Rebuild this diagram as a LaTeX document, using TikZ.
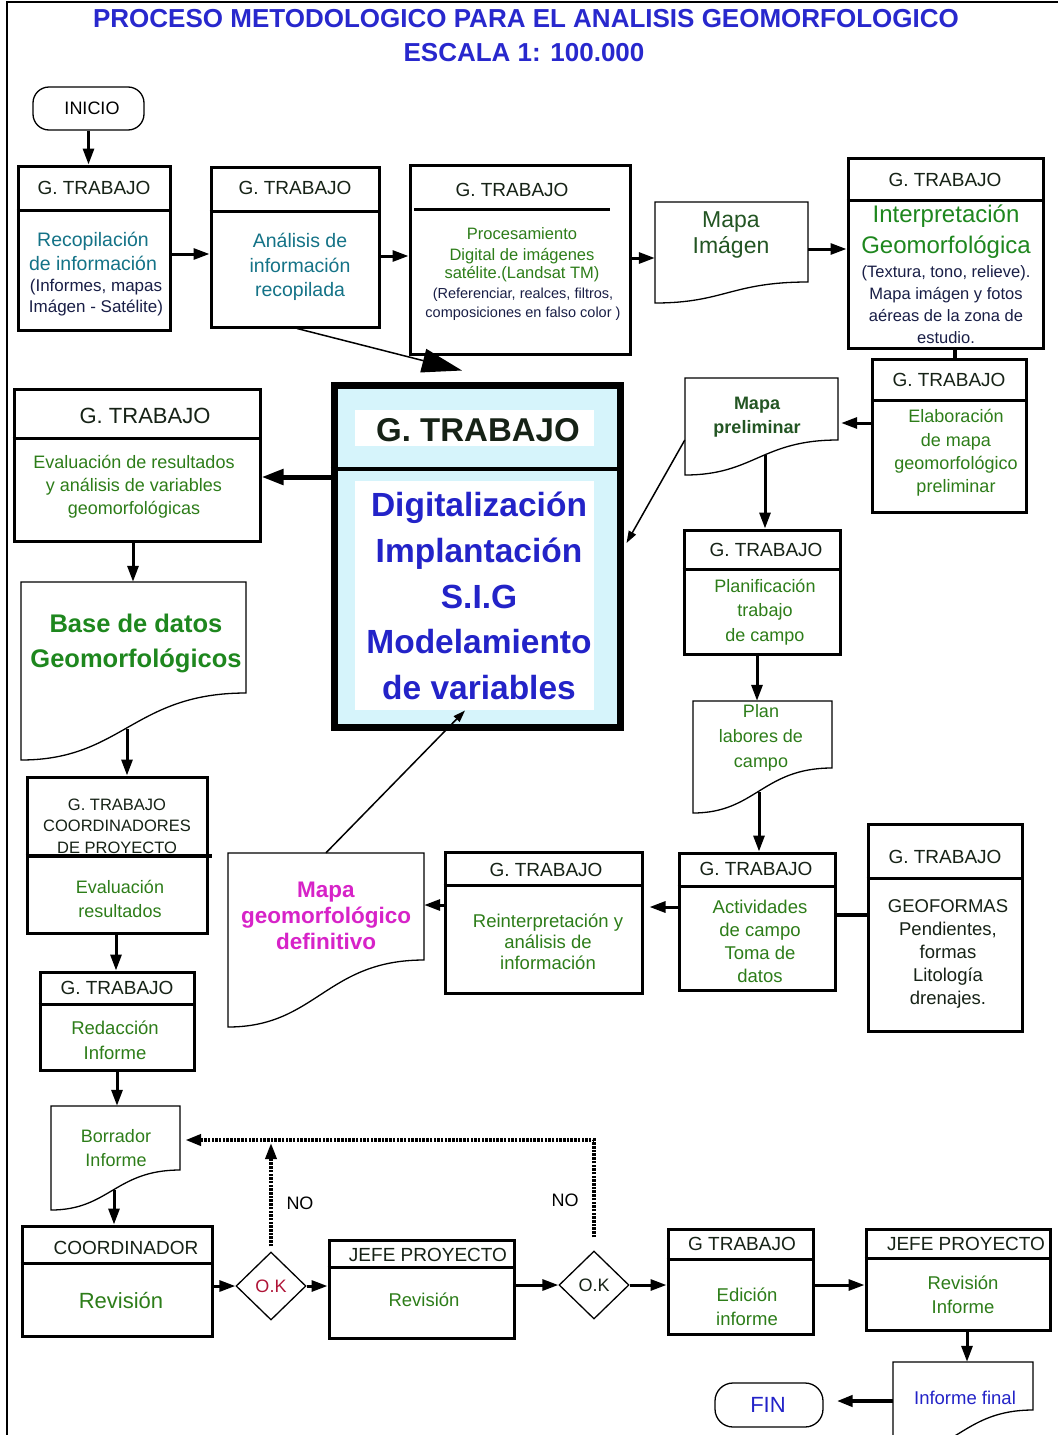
\documentclass[tikz,border=0pt]{standalone}
\usepackage{fontspec}
\setmainfont{Liberation Sans}
\usetikzlibrary{arrows.meta,fit,calc,shapes.geometric}
\definecolor{titleblue}{RGB}{40,40,205}
\definecolor{chdr}{RGB}{22,34,22}
\definecolor{cgreen}{RGB}{45,125,25}
\definecolor{cgreen2}{RGB}{30,135,30}
\definecolor{cdkgreen}{RGB}{35,85,35}
\definecolor{cteal}{RGB}{20,115,135}
\definecolor{cnavy}{RGB}{25,30,70}
\definecolor{cblue}{RGB}{35,35,200}
\definecolor{cmag}{RGB}{215,35,200}
\definecolor{cred}{RGB}{175,20,55}
\definecolor{ccyan}{RGB}{214,244,251}
\newcommand{\fs}[2]{\fontsize{#1}{#2}\selectfont}
\newcommand{\gbox}[6]{%
  \node[boxst, fit={(#2,#3) (#4,#5)}] (#1) {};
  \draw[divst] (#1.west |- 0,#6) -- (#1.east |- 0,#6);}
\newcommand{\docnode}[6]{%
  \node[inner sep=0pt, fit={(#2,#3) (#4,#6)}] (#1) {};
  \draw[docst] (#2,#3) -- (#4,#3) -- (#4,#5) .. controls ({(#2+#4)/2},#5) and ({(#2+#4)/2-0.05*(#4-#2)},#6) .. (#2,#6) -- cycle;}
\begin{document}
\begin{tikzpicture}[x=1pt,y=-1pt,
  boxst/.style={draw=black, line width=3pt, fill=white, inner sep=0pt},
  divst/.style={line width=3pt},
  docst/.style={draw=black, line width=1.3pt, fill=white},
  hdr/.style={inner sep=0pt, align=center, text=chdr, font=\fs{19}{23}},
  txt/.style={inner sep=0pt, align=center},
  arr/.style={line width=3pt, -{Triangle[length=16pt,width=11pt]}},
  thinarr/.style={line width=1.5pt, -{Triangle[length=12pt,width=8pt]}},
  dotarr/.style={line width=3.5pt, dash pattern=on 2.5pt off 1.2pt, -{Triangle[length=16pt,width=11pt]}},
  dmd/.style={diamond, draw, line width=1.3pt, fill=white, minimum width=70pt, minimum height=68pt, inner sep=0pt, font=\fs{18}{22}},
  term/.style={draw, line width=1.3pt, inner sep=0pt}
]
\useasboundingbox (0,0) rectangle (1058,1435);
\draw[line width=1.5pt] (7,1435) -- (7,2) -- (1058,2);

% title
\node[txt, text=titleblue, font=\fs{26}{30}\bfseries] (title1) at (526,19) {PROCESO METODOLOGICO PARA EL ANALISIS GEOMORFOLOGICO};
\node[txt, text=titleblue, font=\fs{26}{30}\bfseries] (title2) at (524,53) {ESCALA 1: 100.000};

% inicio
\node[term, rounded corners=16pt, fit={(33,87) (144,130)}] (inicio) {};
\node[txt, font=\fs{18}{22}] (tinicio) at (92,108) {INICIO};

% row 1
\gbox{b1}{18}{166}{170}{330}{210}
\node[hdr] (h1) at (94,188) {G. TRABAJO};
\node[txt, text=cteal, font=\fs{19.5}{24}] (t1a) at (93,251) {Recopilación\\de información};
\node[txt, text=cnavy, font=\fs{17}{21}] (t1b) at (96,298) {(Informes, mapas\\Imágen - Satélite)};

\gbox{b2}{211}{167}{379}{327}{211}
\node[hdr] (h2) at (295,188) {G. TRABAJO};
\node[txt, text=cteal, font=\fs{19.5}{24.5}] (t2) at (300,267) {Análisis de\\información\\recopilada};

\node[boxst, fit={(410,165) (630,354)}] (b3) {};
\draw[divst] (414,209) -- (610,209);
\node[hdr] (h3) at (512,190) {G. TRABAJO};
\node[txt, text=cgreen, font=\fs{16.5}{20}] (t3a) at (522,234) {Procesamiento};
\node[txt, text=cgreen, font=\fs{16.5}{17.5}] (t3b) at (522,265) {Digital de imágenes\\satélite.(Landsat TM)};
\node[txt, text=cnavy, font=\fs{14.5}{19.5}] (t3c) at (523,304) {(Referenciar, realces, filtros,\\composiciones en falso color )};

\docnode{mimg}{655}{202}{808}{282}{303}
\node[txt, text=cdkgreen, font=\fs{23}{26}] (tmimg) at (731,235) {Mapa\\Imágen};

\gbox{b4}{848}{158}{1043}{348}{200}
\node[hdr] (h4) at (945,180) {G. TRABAJO};
\node[txt, text=cgreen2, font=\fs{24}{31}] (t4a) at (946,232) {Interpretación\\Geomorfológica};
\node[txt, text=cnavy, font=\fs{16.5}{22}] (t4b) at (946,305) {(Textura, tono, relieve).\\Mapa imágen y fotos\\aéreas de la zona de\\estudio.};

\gbox{b5}{872}{359}{1026}{512}{400}
\node[hdr] (h5) at (949,380) {G. TRABAJO};
\node[txt, text=cgreen, font=\fs{18}{23.3}] (t5) at (956,453) {Elaboración\\de mapa\\geomorfológico\\preliminar};

\docnode{mprel}{685}{378}{838}{440}{475}
\node[txt, text=cdkgreen, font=\fs{18}{24}\bfseries] (tmprel) at (757,417) {Mapa\\preliminar};

% central box
\node[draw, line width=7pt, fill=ccyan, inner sep=0pt, fit={(334,385) (620,727)}] (c) {};
\fill[white] (355,410) rectangle (594,446);
\fill[white] (355,481) rectangle (594,710);
\draw[line width=4pt] (c.west |- 0,469) -- (c.east |- 0,469);
\node[txt, text=chdr, font=\fs{33}{38}\bfseries] (hc) at (478,430) {G. TRABAJO};
\node[txt, text=cblue, font=\fs{33.5}{45.75}\bfseries] (tc) at (479,596) {Digitalización\\Implantación\\S.I.G\\Modelamiento\\de variables};

% left column
\gbox{b6}{14}{389}{260}{541}{438}
\node[hdr, font=\fs{22}{26}] (h6) at (145,416) {G. TRABAJO};
\node[txt, text=cgreen, font=\fs{18}{23}] (t6) at (134,487) {Evaluación de resultados\\y análisis de variables\\geomorfológicas};

\docnode{base}{21}{582}{246}{693}{760}
\node[txt, text=cgreen2, font=\fs{25.5}{35}\bfseries] (tbase) at (136,643) {Base de datos\\Geomorfológicos};

\node[boxst, fit={(27,777) (207,933)}] (b7) {};
\draw[line width=4pt] (b7.west |- 0,856) -- ($(b7.east |- 0,856)+(3,0)$);
\node[hdr, font=\fs{16.5}{21.5}] (h7) at (117,826) {G. TRABAJO\\COORDINADORES\\DE PROYECTO};
\node[txt, text=cgreen, font=\fs{18}{24.5}] (t7) at (120,899) {Evaluación\\resultados};

\gbox{b8}{40}{972}{194}{1070}{1004}
\node[hdr] (h8) at (117,988) {G. TRABAJO};
\node[txt, text=cgreen, font=\fs{18.5}{25}] (t8) at (115,1040) {Redacción\\Informe};

\docnode{borr}{51}{1106}{180}{1170}{1210}
\node[txt, text=cgreen, font=\fs{18}{23.5}] (tborr) at (116,1148) {Borrador\\Informe};

% bottom row
\gbox{b13}{22}{1226}{212}{1336}{1263}
\node[hdr] (h13) at (126,1248) {COORDINADOR};
\node[txt, text=cgreen, font=\fs{22}{26}] (t13) at (121,1300) {Revisión};

\node[dmd, text=cred] (d1) at (271,1286) {O.K};
\node[txt, font=\fs{18}{22}] (no1) at (300,1203) {NO};
\node[txt, font=\fs{18}{22}] (no2) at (565,1200) {NO};

\gbox{b14}{329}{1240}{514}{1338}{1267}
\node[hdr] (h14) at (428,1255) {JEFE PROYECTO};
\node[txt, text=cgreen, font=\fs{18.5}{22}] (t14) at (424,1300) {Revisión};

\node[dmd, text=chdr] (d2) at (594,1285) {O.K};

\gbox{b15}{668}{1229}{813}{1334}{1259}
\node[hdr] (h15) at (742,1244) {G TRABAJO};
\node[txt, text=cgreen, font=\fs{18.5}{23.5}] (t15) at (747,1307) {Edición\\informe};

\gbox{b16}{866}{1229}{1050}{1330}{1258}
\node[hdr] (h16) at (966,1244) {JEFE PROYECTO};
\node[txt, text=cgreen, font=\fs{18.5}{24}] (t16) at (963,1295) {Revisión\\Informe};

\docnode{ifin}{893}{1362}{1033}{1410}{1455}
\node[txt, text=cblue, font=\fs{18.5}{22}] (tifin) at (965,1398) {Informe final};

\node[term, rounded corners=18pt, fit={(715,1383) (823,1427)}] (fin) {};
\node[txt, text=cblue, font=\fs{22}{26}] (tfin) at (768,1405) {FIN};

% right middle
\gbox{b9}{684}{530}{840}{654}{569}
\node[hdr] (h9) at (766,550) {G. TRABAJO};
\node[txt, text=cgreen, font=\fs{18}{24.5}] (t9) at (765,612) {Planificación\\trabajo\\de campo};

\docnode{plan}{693}{701}{832}{768}{813}
\node[txt, text=cgreen, font=\fs{18}{25}] (tplan) at (761,738) {Plan\\labores de\\campo};

\gbox{b10}{679}{853}{835}{990}{886}
\node[hdr] (h10) at (756,869) {G. TRABAJO};
\node[txt, text=cgreen, font=\fs{18.5}{23}] (t10) at (760,941) {Actividades\\de campo\\Toma de\\datos};

\gbox{b11}{868}{824}{1022}{1031}{878}
\node[hdr] (h11) at (945,857) {G. TRABAJO};
\node[txt, text=chdr, font=\fs{18.5}{23}] (t11) at (948,954) {GEOFORMAS\\Pendientes,\\formas\\Litología\\drenajes.};

\gbox{b12}{445}{852}{642}{993}{885}
\node[hdr] (h12) at (546,870) {G. TRABAJO};
\node[txt, text=cgreen, font=\fs{18.5}{21}] (t12) at (548,942) {Reinterpretación y\\análisis de\\información};

\docnode{mdef}{228}{853}{424}{960}{1027}
\node[txt, text=cmag, font=\fs{22.5}{26}\bfseries] (tmdef) at (326,916) {Mapa\\geomorfológico\\definitivo};

% helper coordinates
\coordinate (mprelw) at (765,455);
\coordinate (basew) at (127,729);
\coordinate (borrw) at (114,1190);
\coordinate (planw) at (759,792);
\coordinate (retline) at (592,1140);

% connectors
\draw[arr] (inicio.south) -- (inicio.south |- b1.north);
\draw[arr] (b1.east |- 0,254) -- (b2.west |- 0,254);
\draw[arr] (b2.east |- 0,256) -- (b3.west |- 0,256);
\draw[arr] (b3.east |- 0,258) -- (mimg.west |- 0,258);
\draw[arr] (mimg.east |- 0,249) -- (b4.west |- 0,249);
\draw[line width=4pt] (b4.south -| 955,0) -- (b5.north -| 955,0);
\draw[arr, shorten >=3pt] (b5.west |- 0,423) -- (mprel.east |- 0,423);
\draw[arr] (mprelw) -- (mprelw |- b9.north);
\draw[thinarr] (mprel.west |- 0,440) -- ($(c.east |- 0,543)+(3,0)$);
\draw[line width=1.5pt, -{Triangle[length=40pt,width=24pt]}] (b2.south -| 297,0) -- ($(c.north -| 462,0)+(0,-11)$);
\draw[line width=5pt, -{Triangle[length=22pt,width=15pt]}] (c.west |- 0,477) -- (b6.east |- 0,477);
\draw[arr] (b6.south -| 133,0) -- (base.north -| 133,0);
\draw[arr] (basew) -- (basew |- b7.north);
\draw[arr] (b7.south -| 116,0) -- (b8.north -| 116,0);
\draw[arr] (b8.south -| 117,0) -- (borr.north -| 117,0);
\draw[arr] (borrw) -- (borrw |- b13.north);
\draw[arr] (b13.east |- d1) -- (d1.west);
\draw[arr] (d1.east) -- (b14.west |- d1.east);
\draw[dotarr, shorten <=5pt, shorten >=3pt] (d1.north) -- (d1.north |- retline);
\draw[dotarr, line width=4pt, shorten <=13pt, shorten >=5pt] (d2.north) -- (d2.north |- retline) -- (borr.east |- retline);
\draw[arr] (b14.east |- d2) -- (d2.west);
\draw[arr] (d2.east) -- (b15.west |- d2.east);
\draw[arr] (b15.east |- d2) -- (b16.west |- d2);
\draw[arr] (b16.south -| 967,0) -- (ifin.north -| 967,0);
\draw[arr, line width=4pt, shorten >=13pt] (ifin.west |- 0,1401) -- (fin.east |- 0,1401);
\draw[arr] (b9.south -| 757,0) -- (plan.north -| 757,0);
\draw[arr] (planw) -- (planw |- b10.north);
\draw[line width=4pt] (b10.east |- 0,915) -- (b11.west |- 0,915);
\draw[arr, shorten >=6pt] (b10.west |- 0,907) -- (b12.east |- 0,907);
\draw[arr] (b12.west |- 0,905) -- (mdef.east |- 0,905);
\draw[thinarr] (mdef.north -| 326,0) -- ($(c.south -| 465,0)+(0,-20)$);
\end{tikzpicture}
\end{document}
